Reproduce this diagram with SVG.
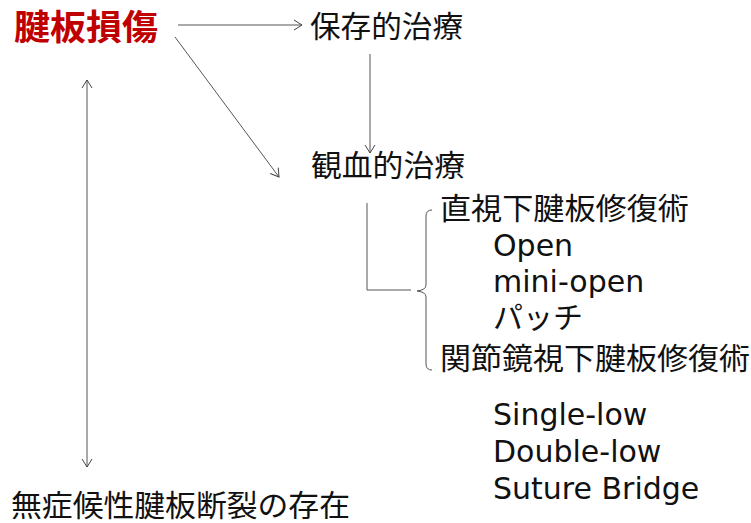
<svg xmlns="http://www.w3.org/2000/svg" width="751" height="523" viewBox="0 0 751 523">
<defs>
<marker id="ah" markerWidth="12" markerHeight="12" refX="9" refY="6" orient="auto" markerUnits="userSpaceOnUse">
<path d="M1,1 L9,6 L1,11" fill="none" stroke="#444" stroke-width="1"/>
</marker>
<marker id="ahs" markerWidth="12" markerHeight="12" refX="9" refY="6" orient="auto-start-reverse" markerUnits="userSpaceOnUse">
<path d="M1,1 L9,6 L1,11" fill="none" stroke="#444" stroke-width="1"/>
</marker>
</defs>
<style>
.jp{font-family:"Noto Sans CJK JP","Noto Sans",sans-serif;font-size:30px;fill:#111}
.en{font-family:"DejaVu Sans",Verdana,sans-serif;font-size:30px;fill:#111}
.ln{fill:none;stroke:#555;stroke-width:1}
</style>
<rect width="751" height="523" fill="#fff"/>
<g id="connectors">
<line class="ln" x1="178" y1="25" x2="302" y2="25" marker-end="url(#ah)"/>
<line class="ln" x1="370" y1="54" x2="370" y2="153" marker-end="url(#ah)"/>
<line class="ln" x1="175" y1="37" x2="279" y2="177" marker-end="url(#ah)"/>
<line class="ln" x1="87" y1="80" x2="87" y2="467" marker-start="url(#ahs)" marker-end="url(#ah)"/>
<path class="ln" d="M367,203 L367,290 L411,290"/>
<path class="ln" d="M432,210 Q426,210 426,216 L426,285 Q426,290 417,291 Q426,292 426,297 L426,364 Q426,370 432,370"/>
</g>
<g id="n-tendon"><text x="14" y="40" font-family="Noto Sans CJK JP, sans-serif" font-weight="bold" font-size="35" fill="#c00000" textLength="144" lengthAdjust="spacingAndGlyphs">腱板損傷</text></g>
<g id="n-conservative"><text class="jp" x="310" y="37" textLength="153" lengthAdjust="spacingAndGlyphs">保存的治療</text></g>
<g id="n-surgical"><text class="jp" x="311" y="176" textLength="154" lengthAdjust="spacingAndGlyphs">観血的治療</text></g>
<g id="n-open-repair">
<text class="jp" x="440" y="219" textLength="249" lengthAdjust="spacingAndGlyphs">直視下腱板修復術</text>
<text class="en" x="493" y="256">Open</text>
<text class="en" x="493" y="292">mini-open</text>
<text class="jp" x="493" y="328">パッチ</text>
</g>
<g id="n-arthro-repair">
<text class="jp" x="440" y="369" textLength="310" lengthAdjust="spacingAndGlyphs">関節鏡視下腱板修復術</text>
<text class="en" x="493" y="425">Single-low</text>
<text class="en" x="493" y="462">Double-low</text>
<text class="en" x="493" y="499">Suture Bridge</text>
</g>
<g id="n-asymptomatic"><text class="jp" x="11" y="516" textLength="339" lengthAdjust="spacingAndGlyphs">無症候性腱板断裂の存在</text></g>
</svg>
